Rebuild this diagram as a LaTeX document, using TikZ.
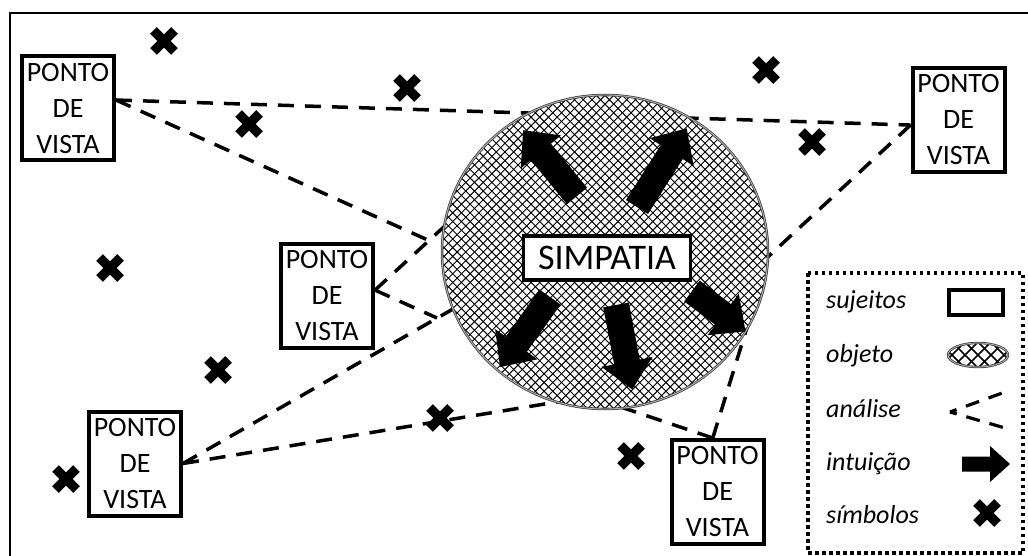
\documentclass[tikz,border=0pt]{standalone}
\usepackage{fontspec}
\setmainfont{Carlito}

% cross-hatched ellipse: centre #1,#2; radii #3,#4; spacing #5; line width #6
\newcommand\hatchellipse[6]{%
  \begin{scope}
    \clip (#1,#2) ellipse [x radius=#3pt, y radius=#4pt];
    \fill[white] (#1,#2) ellipse [x radius=#3pt, y radius=#4pt];
    \pgfmathsetmacro\hl{#3+#4+10}
    \foreach \k in {-45,...,45}{
      \draw[line width=#6] ({#1+\k*#5-\hl},{#2-\hl}) -- ++({2*\hl},{2*\hl});
      \draw[line width=#6] ({#1+\k*#5+\hl},{#2-\hl}) -- ++({-2*\hl},{2*\hl});
    }
  \end{scope}}

% block arrow: tail #1, direction angle #2, length #3
\newcommand\intuitionarrow[3]{%
  \fill[shift={(#1)}, rotate=#2]
    (0pt,-13pt) -- ({(#3-28)*1pt},-13pt) -- ({(#3-28)*1pt},-26pt) -- ({#3*1pt},0pt)
    -- ({(#3-28)*1pt},26pt) -- ({(#3-28)*1pt},13pt) -- (0pt,13pt) -- cycle;}

\tikzset{
  pov/.style={draw, line width=4pt, fill=white, minimum width=92pt, minimum height=104pt,
    inner sep=0pt, align=center, font=\fontsize{28}{36}\selectfont},
  analysis/.style={line width=3.5pt, dash pattern=on 16pt off 11pt},
  legendtext/.style={anchor=base west, inner sep=0pt, font=\fontsize{26}{30}\selectfont\itshape},
  symbolx/.pic={\draw[line width=9.5pt] (-10.5,-10.5) -- (10.5,10.5) (-10.5,10.5) -- (10.5,-10.5);},
}

\begin{document}
\begin{tikzpicture}[x=1pt, y=-1pt]
\useasboundingbox (0,0) rectangle (1028,556);

% outer frame
\draw[line width=2pt] (10,560) -- (10,13) -- (1032,13);

% points of view
\node[pov] (TL) at (68,108.5) {PONTO\\DE\\VISTA};
\node[pov] (TR) at (958.5,120) {PONTO\\DE\\VISTA};
\node[pov] (MB) at (327,296) {PONTO\\DE\\VISTA};
\node[pov] (BL) at (135,463.5) {PONTO\\DE\\VISTA};
\node[pov] (BC) at (717.5,492) {PONTO\\DE\\VISTA};

% ends of the analysis lines (at or behind the object)
\coordinate (e2) at (430,241);
\coordinate (e3) at (447,224);
\coordinate (e4) at (437,318);
\coordinate (e5) at (460,305);
\coordinate (e6) at (575,399);
\coordinate (e7) at (600,400);
\coordinate (e8) at (757,295);
\coordinate (e9) at (757,267);

% analysis lines
\draw[analysis] (TL.10) -- (TR.186);
\draw[analysis] (TL.10) -- (e2);
\draw[analysis] (MB.7) -- (e3);
\draw[analysis] (MB.7) -- (e4);
\draw[analysis] (BL.east) -- (e5);
\draw[analysis] (BL.east) -- (e6);
\draw[analysis] (BC.95) -- (e7);
\draw[analysis] (BC.95) -- (e8);
\draw[analysis] (TR.186) -- (e9);

% symbols
\foreach \p in {(164,41),(407,88),(249,124),(766,70),(812,142),(110,268),
                (218,370),(440,418),(631,456),(66,479)}
  \pic at \p {symbolx};

% the object
\hatchellipse{605}{252}{163}{157}{8.7}{0.95pt}
\draw[draw=black!75, line width=0.8pt, double=black!30, double distance=0.9pt]
  (605,252) ellipse [x radius=163pt, y radius=157pt];

% intuition arrows
\intuitionarrow{577,196}{129.3}{85}
\intuitionarrow{637,207}{57.7}{93}
\intuitionarrow{550,297}{-125.5}{86}
\intuitionarrow{616,305}{-79.1}{86}
\intuitionarrow{692,291}{-37}{67}

\node[draw, line width=3.5pt, fill=white, minimum width=167pt, minimum height=44pt,
  inner sep=0pt, font=\fontsize{36}{36}\selectfont] (simpatia) at (607,258) {SIMPATIA};

% legend
\draw[line width=3.5pt, dash pattern=on 3.5pt off 3.5pt] (808,273) rectangle (1023,553);
\node[legendtext] (l1) at (826,308) {sujeitos};
\node[legendtext] (l2) at (826,362) {objeto};
\node[legendtext] (l3) at (826,417) {análise};
\node[legendtext] (l4) at (826,470) {intuição};
\node[legendtext] (l5) at (826,523) {símbolos};

\draw[line width=4pt] (949,290) rectangle (1003,315);
\hatchellipse{978}{355}{30}{12}{13}{1.5pt}
\draw[draw=black!75, line width=0.8pt, double=black!30, double distance=0.8pt]
  (978,355) ellipse [x radius=30pt, y radius=12pt];
\coordinate (lv) at (950,412);
\coordinate (lu) at (1005,392);
\coordinate (ld) at (1005,428);
\draw[line width=3.2pt, dash pattern=on 14pt off 10pt, dash phase=7pt] (lv) -- (lu);
\draw[line width=3.2pt, dash pattern=on 14pt off 10pt, dash phase=7pt] (lv) -- (ld);
\fill (962,456.5) -- (990,456.5) -- (990,446) -- (1010,464) -- (990,482) -- (990,471.5)
  -- (962,471.5) -- cycle;
\pic at (987,513) {symbolx};
\end{tikzpicture}
\end{document}
